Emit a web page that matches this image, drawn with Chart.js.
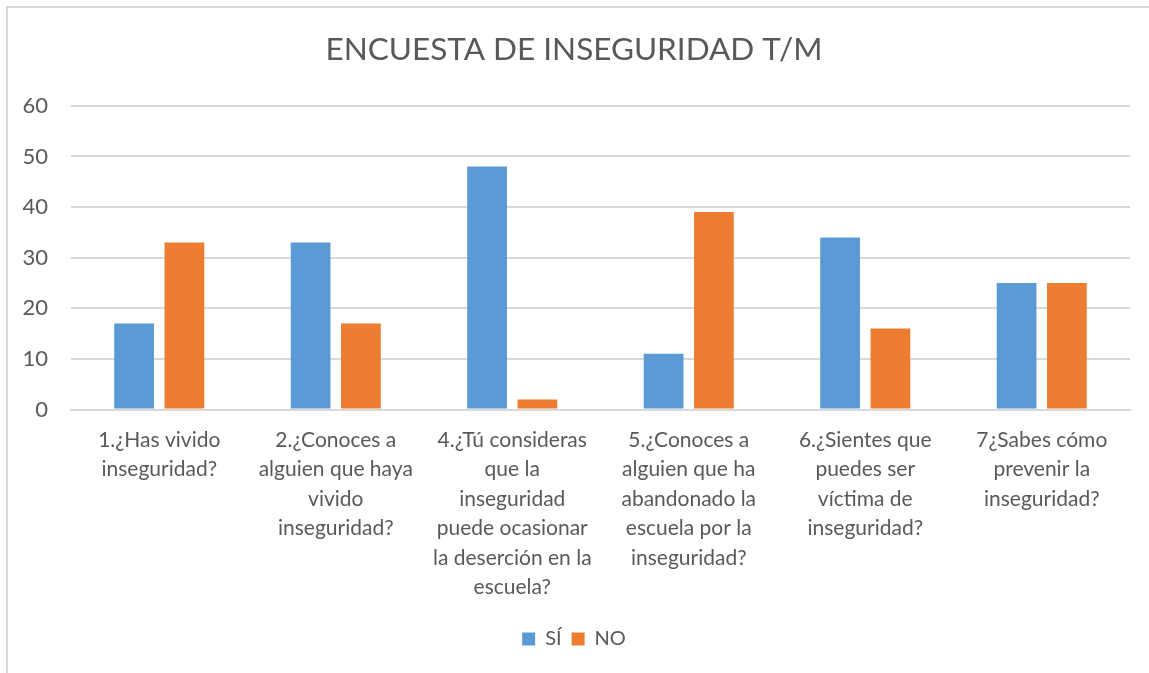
<!DOCTYPE html>
<html>
<head>
<meta charset="utf-8">
<script src="https://cdn.jsdelivr.net/npm/chart.js@4/dist/chart.umd.min.js"></script>
<style>
body{margin:0;overflow:hidden;background:#fff;width:1149px;height:673px;position:relative}
#frame{position:absolute;left:6px;top:6px;width:1200px;height:700px;border:2px solid #d9d9d9;box-sizing:border-box}
#wrap{position:absolute;left:0;top:0;width:1149px;height:673px}
</style>
</head>
<body>
<div id="frame"></div>
<div id="wrap"><canvas id="chart"></canvas></div>
<script>
const categories = [
["1.¿Has vivido","inseguridad?"],
["2.¿Conoces a","alguien que haya","vivido","inseguridad?"],
["4.¿Tú consideras","que la","inseguridad","puede ocasionar","la deserción en la","escuela?"],
["5.¿Conoces a","alguien que ha","abandonado la","escuela por la","inseguridad?"],
["6.¿Sientes que","puedes ser","víctima de","inseguridad?"],
["7¿Sabes cómo","prevenir la","inseguridad?"]
];
const si = [17, 33, 48, 11, 34, 25];
const no = [33, 17, 2, 39, 16, 25];
const yTicks = [0, 10, 20, 30, 40, 50, 60];

const txt = "#595959";
const fam = "Lato, 'Open Sans', sans-serif";

new Chart(document.getElementById("chart"),{
type:"bar",
data:{
labels:categories,
datasets:[
{label:"SÍ",data:si,backgroundColor:"#5b9bd5"},
{label:"NO",data:no,backgroundColor:"#ed7d31"}
]
},
options:{
responsive:true,
maintainAspectRatio:false,
animation:false,
layout:{padding:{left:18,right:19,top:0,bottom:14}},
datasets:{bar:{categoryPercentage:0.57,barPercentage:0.79}},
plugins:{
title:{
display:true,
text:"ENCUESTA DE INSEGURIDAD T/M",
color:txt,
font:{family:fam,size:31.5,weight:"normal"},
padding:{top:31,bottom:37}
},
legend:{
position:"bottom",
labels:{color:txt,font:{family:fam,size:20},boxWidth:13,boxHeight:13,padding:10}
},
tooltip:{enabled:false}
},
scales:{
x:{
grid:{display:false},
border:{display:true,color:"#d9d9d9",width:2},
ticks:{color:txt,font:{family:fam,size:21,lineHeight:1.4},maxRotation:0,autoSkip:false,padding:8},
afterFit:s=>{s.height=209.5}
},
y:{
min:0,max:60,
afterBuildTicks:s=>{s.ticks=yTicks.map(v=>({value:v}))},
grid:{color:"#d9d9d9",lineWidth:2,drawTicks:false},
border:{display:false},
ticks:{color:txt,font:{family:fam,size:22},padding:23},
afterFit:s=>{s.width=53}
}
}
}
});
</script>
</body>
</html>
